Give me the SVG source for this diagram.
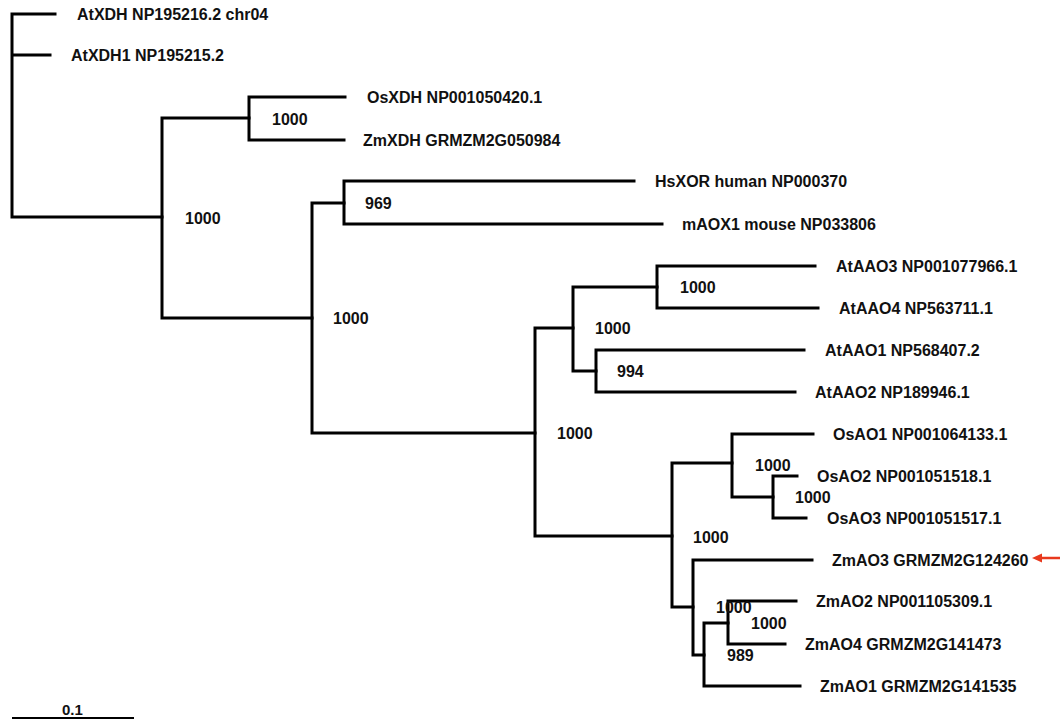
<svg xmlns="http://www.w3.org/2000/svg" width="1060" height="720" viewBox="0 0 1060 720">
<defs>
<style>
text{font-family:"Liberation Sans",Arial,Helvetica,sans-serif;font-weight:bold;font-size:16px;fill:#111}
.br{fill:none;stroke:#000;stroke-width:3;stroke-linecap:square;stroke-linejoin:miter}
.sc{fill:none;stroke:#000;stroke-width:2}
.bs{font-size:16px}
.arr{stroke:#e8391d;stroke-width:2.5;fill:none}
.arrh{fill:#e8391d;stroke:none}
</style>
</defs>
<rect width="1060" height="720" fill="#fff"/>
<g id="connectors">
<path class="br" d="M12,14 V217 M12,14 H55 M12,55 H50 M12,217 H162"/>
<path class="br" d="M162,118 V318 M162,118 H249 M162,318 H312"/>
<path class="br" d="M249,97 V140 M249,97 H345 M249,140 H344"/>
<path class="br" d="M312,203 V433 M312,203 H344 M312,433 H535"/>
<path class="br" d="M344,181 V224 M344,181 H634 M344,224 H662"/>
<path class="br" d="M535,328 V536 M535,328 H573 M535,536 H672"/>
<path class="br" d="M573,287 V371 M573,287 H657 M573,371 H596"/>
<path class="br" d="M657,266 V308 M657,266 H815 M657,308 H818"/>
<path class="br" d="M596,350 V392 M596,350 H804 M596,392 H795"/>
<path class="br" d="M672,463 V607 M672,463 H732 M672,607 H693"/>
<path class="br" d="M732,434 V497 M732,434 H813 M732,497 H773"/>
<path class="br" d="M773,476 V518 M773,476 H797 M773,518 H806"/>
<path class="br" d="M693,560 V655 M693,560 H812 M693,655 H704"/>
<path class="br" d="M704,623 V686 M704,623 H728 M704,686 H800"/>
<path class="br" d="M728,601 V644 M728,601 H796 M728,644 H785"/>
<g id="red-arrow">
<line class="arr" x1="1060" y1="558" x2="1040" y2="558"/>
<polygon class="arrh" points="1032,558 1042,553.5 1042,562.5"/>
</g>
</g>
<g id="leaf-AtXDH"><text x="77" y="20">AtXDH NP195216.2 chr04</text></g>
<g id="leaf-AtXDH1"><text x="71" y="61">AtXDH1 NP195215.2</text></g>
<g id="leaf-OsXDH"><text x="367" y="103">OsXDH NP001050420.1</text></g>
<g id="leaf-ZmXDH"><text x="363" y="146">ZmXDH GRMZM2G050984</text></g>
<g id="leaf-HsXOR"><text x="655" y="187">HsXOR human NP000370</text></g>
<g id="leaf-mAOX1"><text x="682" y="230">mAOX1 mouse NP033806</text></g>
<g id="leaf-AtAAO3"><text x="836" y="272">AtAAO3 NP001077966.1</text></g>
<g id="leaf-AtAAO4"><text x="839" y="314">AtAAO4 NP563711.1</text></g>
<g id="leaf-AtAAO1"><text x="825" y="356">AtAAO1 NP568407.2</text></g>
<g id="leaf-AtAAO2"><text x="815" y="398">AtAAO2 NP189946.1</text></g>
<g id="leaf-OsAO1"><text x="833" y="440">OsAO1 NP001064133.1</text></g>
<g id="leaf-OsAO2"><text x="817" y="482">OsAO2 NP001051518.1</text></g>
<g id="leaf-OsAO3"><text x="827" y="524">OsAO3 NP001051517.1</text></g>
<g id="leaf-ZmAO3"><text x="832" y="566">ZmAO3 GRMZM2G124260</text></g>
<g id="leaf-ZmAO2"><text x="816" y="607">ZmAO2 NP001105309.1</text></g>
<g id="leaf-ZmAO4"><text x="805" y="650">ZmAO4 GRMZM2G141473</text></g>
<g id="leaf-ZmAO1"><text x="820" y="692">ZmAO1 GRMZM2G141535</text></g>
<g id="node-A"><text class="bs" x="185" y="224">1000</text></g>
<g id="node-B"><text class="bs" x="272" y="125">1000</text></g>
<g id="node-C"><text class="bs" x="333" y="324">1000</text></g>
<g id="node-D"><text class="bs" x="365" y="209">969</text></g>
<g id="node-E"><text class="bs" x="557" y="439">1000</text></g>
<g id="node-N"><text class="bs" x="595" y="334">1000</text></g>
<g id="node-F"><text class="bs" x="680" y="293">1000</text></g>
<g id="node-G"><text class="bs" x="617" y="377">994</text></g>
<g id="node-H"><text class="bs" x="693" y="543">1000</text></g>
<g id="node-I"><text class="bs" x="755" y="471">1000</text></g>
<g id="node-J"><text class="bs" x="795" y="503">1000</text></g>
<g id="node-K"><text class="bs" x="716" y="613">1000</text></g>
<g id="node-L"><text class="bs" x="727" y="661">989</text></g>
<g id="node-M"><text class="bs" x="751" y="629">1000</text></g>
<g id="scale-bar">
<line class="sc" x1="12" y1="718" x2="134" y2="718"/>
<text x="62" y="715" style="font-size:15px">0.1</text>
</g>
</svg>
